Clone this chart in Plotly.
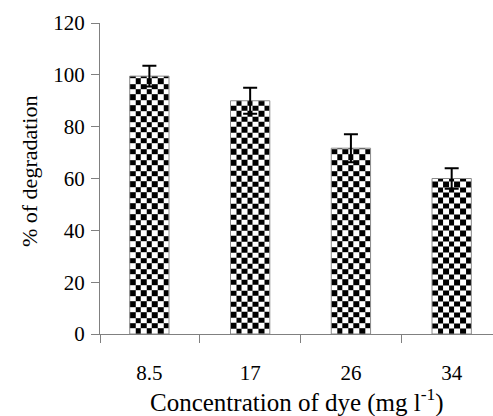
import numpy as np
import plotly.graph_objects as go

# Dye concentration (mg/l) and photocatalytic degradation (%)
concentrations = ["8.5", "17", "26", "34"]
degradation = [99.5, 90.0, 71.7, 60.0]
errors = [4.0, 5.0, 5.4, 4.0]
y_ticks = [0, 20, 40, 60, 80, 100, 120]

BAR_WIDTH = 0.39
CHECK_COLS = 7
CHECK_ROW = 2.1  # checker row height in % units
AXIS_GRAY = "#808080"
FONT = "Liberation Serif"

fig = go.Figure()

# checkerboard fill for each bar, built as a small heatmap inside the bar outline
for i, val in enumerate(degradation):
    xe = np.linspace(i - BAR_WIDTH / 2, i + BAR_WIDTH / 2, CHECK_COLS + 1)
    ye = list(np.arange(0, val, CHECK_ROW))
    if val - ye[-1] < 0.2:
        ye = ye[:-1]
    ye.append(val)
    nrows = len(ye) - 1
    z = [[(r + c) % 2 for c in range(CHECK_COLS)] for r in range(nrows)]
    fig.add_trace(go.Heatmap(
        x=xe, y=ye, z=z,
        colorscale=[[0, "white"], [1, "black"]],
        zmin=0, zmax=1, showscale=False, hoverinfo="skip",
    ))

# bar outlines with error bars drawn on top of the checker fill
fig.add_trace(go.Bar(
    x=list(range(len(concentrations))),
    y=degradation,
    width=BAR_WIDTH,
    marker=dict(color="rgba(0,0,0,0)", line=dict(color="#8a8a8a", width=1)),
    error_y=dict(type="data", array=errors, visible=True,
                 color="black", thickness=2, width=7),
    showlegend=False,
))

fig.update_layout(
    width=493, height=416,
    margin=dict(l=100, r=0, t=23, b=82),
    paper_bgcolor="white", plot_bgcolor="white",
    font=dict(family=FONT, color="black"),
    showlegend=False,
    xaxis=dict(
        range=[-0.49, 3.41],
        tickmode="array",
        tickvals=list(range(len(concentrations))),
        ticktext=concentrations,
        ticks="",
        ticklabelstandoff=20,
        tickfont=dict(family=FONT, size=21, color="black"),
        showline=True, linecolor=AXIS_GRAY, linewidth=1,
        showgrid=False, zeroline=False,
        minor=dict(tickvals=[-0.49, 0.5, 1.5, 2.5], ticks="outside",
                   ticklen=8, tickcolor=AXIS_GRAY, tickwidth=1, showgrid=False),
    ),
    yaxis=dict(
        range=[0, 120],
        tickmode="array",
        tickvals=y_ticks,
        ticks="outside", ticklen=8, tickcolor=AXIS_GRAY, tickwidth=1,
        ticklabelstandoff=2,
        tickfont=dict(family=FONT, size=21, color="black"),
        showline=True, linecolor=AXIS_GRAY, linewidth=1,
        showgrid=False, zeroline=False,
    ),
    annotations=[
        dict(text="% of degradation", textangle=-90,
             xref="paper", yref="paper", x=-71 / 393, y=0.524,
             xanchor="center", yanchor="middle", showarrow=False,
             font=dict(family=FONT, size=22, color="black")),
        dict(text="Concentration of dye (mg l<sup>-1</sup>)",
             xref="paper", yref="paper", x=0.5, y=-66 / 311,
             xanchor="center", yanchor="middle", showarrow=False,
             font=dict(family=FONT, size=25, color="black")),
    ],
)

fig.write_html("out.html")
